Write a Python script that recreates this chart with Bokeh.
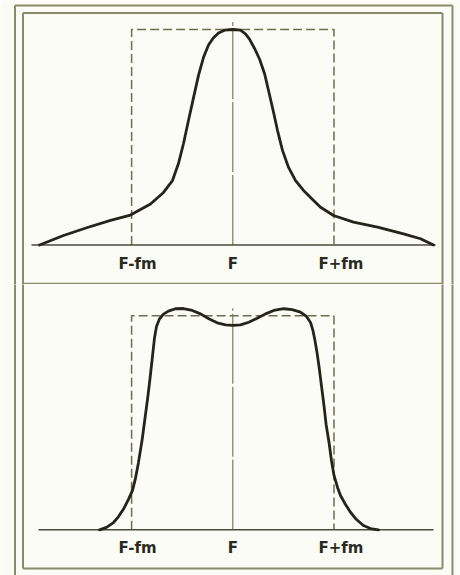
from bokeh.plotting import figure
from bokeh.layouts import column
from bokeh.models import Range1d
from bokeh.core.properties import value
from bokeh.embed import file_html
from bokeh.resources import INLINE

# ---------------- data (frequency in units of fm, F = 0; amplitude relative) -------------
tick_positions = [-1.0, 0.0, 1.0]
tick_labels = ["F-fm", "F", "F+fm"]

band_left = -1.0          # F - fm
band_right = 1.0          # F + fm
band_top = 1.0            # ideal (rectangular) response

# upper panel: single-peaked response
top_x = [-1.910, -1.673, -1.436, -1.208, -1.011, -0.813, -0.685, -0.596, -0.537, -0.487,
         -0.438, -0.388, -0.339, -0.290, -0.240, -0.191, -0.141, -0.082, 0.0,
         0.076, 0.125, 0.165, 0.215, 0.265, 0.314, 0.353, 0.403, 0.442, 0.491,
         0.551, 0.620, 0.699, 0.788, 0.867, 0.995, 1.193, 1.430, 1.687, 1.855, 1.983]
top_y = [0.0, 0.044, 0.081, 0.114, 0.139, 0.190, 0.244, 0.299, 0.378, 0.471,
         0.578, 0.684, 0.787, 0.870, 0.928, 0.962, 0.984, 0.997, 1.0,
         0.997, 0.980, 0.955, 0.912, 0.862, 0.795, 0.717, 0.615, 0.531, 0.439,
         0.360, 0.299, 0.253, 0.211, 0.175, 0.137, 0.106, 0.083, 0.052, 0.029, 0.0]

# lower panel: double-humped band-pass response
bot_x = [-1.317, -1.248, -1.179, -1.129, -1.080, -1.031, -0.991, -0.962, -0.932, -0.897,
         -0.868, -0.843, -0.818, -0.793, -0.773, -0.754, -0.725, -0.685, -0.636, -0.567,
         -0.488, -0.401, -0.319, -0.237, -0.154, -0.072, 0.0,
         0.076, 0.158, 0.241, 0.323, 0.405, 0.504, 0.587, 0.669, 0.728, 0.768,
         0.792, 0.812, 0.832, 0.852, 0.876, 0.901, 0.922, 0.951, 0.975, 1.000,
         1.035, 1.064, 1.114, 1.163, 1.222, 1.291, 1.361, 1.440]
bot_y = [0.0, 0.011, 0.034, 0.062, 0.097, 0.142, 0.184, 0.240, 0.315, 0.417,
         0.520, 0.609, 0.707, 0.814, 0.899, 0.950, 0.985, 1.008, 1.022, 1.033,
         1.034, 1.025, 1.009, 0.986, 0.967, 0.958, 0.955,
         0.958, 0.970, 0.989, 1.009, 1.025, 1.033, 1.029, 1.017, 0.997, 0.969,
         0.931, 0.885, 0.829, 0.763, 0.674, 0.581, 0.492, 0.408, 0.324, 0.254,
         0.198, 0.160, 0.118, 0.082, 0.048, 0.020, 0.006, 0.0]

# ---------------- styling / layout ----------------
BG = "#fcfcf7"
FRAME = "#8a8a6c"
DASH = "#6c6c52"
CENTER = "#7a7a5e"
CURVE = "#24241a"
BASE = "#4a4a3c"
TEXT = "#2a2a1e"

W = 460
F_PX, FM_PX = 232.3, 101.2          # page pixel of F and pixels per fm


def px2x(px):
    return (px - F_PX) / FM_PX


def make_panel(top_page, height, base_px, unit_px, cx, cy, base_ext, label_py, is_top):
    def py2y(py):
        return (base_px - py) / unit_px

    p = figure(width=W, height=height,
               x_range=Range1d(px2x(0), px2x(W)),
               y_range=Range1d(py2y(top_page + height), py2y(top_page)),
               output_backend="svg", toolbar_location=None,
               x_axis_location=None, y_axis_location=None,
               background_fill_color=BG, border_fill_color=BG,
               outline_line_color=None)
    p.min_border_left = p.min_border_right = 0
    p.min_border_top = p.min_border_bottom = 0
    p.xgrid.visible = False
    p.ygrid.visible = False

    bottom_page = top_page + height
    x0, y0, x1, y1 = [], [], [], []

    def seg(a, b, c, d):
        x0.append(px2x(a)); y0.append(py2y(b)); x1.append(px2x(c)); y1.append(py2y(d))

    if is_top:
        seg(14.5, 5, 14.5, bottom_page + 3)        # outer left
        seg(14.5, 5, 452, 5)                       # outer top
        seg(452, 5, 452, bottom_page + 3)          # outer right
        seg(22.5, 12.5, 22.5, bottom_page + 3)     # inner left
        seg(22.5, 12.5, 442, 12.5)                 # inner top
        seg(442, 12.5, 442, bottom_page + 3)       # inner right
        seg(22.5, 283.3, 442, 283.3)               # divider
    else:
        seg(14.5, top_page - 3, 14.5, bottom_page + 3)
        seg(452, top_page - 3, 452, bottom_page + 3)
        seg(22.5, top_page - 3, 22.5, 568)
        seg(442, top_page - 3, 442, 568)
        seg(22.5, 568, 442, 568)
    p.segment(x0=x0, y0=y0, x1=x1, y1=y1, line_color=FRAME, line_width=2)

    # ideal rectangular band (dashed)
    p.line([band_left, band_left, band_right, band_right], [0, band_top, band_top, 0],
           line_color=DASH, line_width=1.5, line_dash="9 4")
    # centre line at F
    p.line([tick_positions[1], tick_positions[1]], [0, 1.035],
           line_color=CENTER, line_width=1.2, line_dash="70 3")
    # base line
    p.line(base_ext, [0, 0], line_color=BASE, line_width=1.6)
    # response curve
    p.line(cx, cy, line_color=CURVE, line_width=2.8, line_join="round", line_cap="round")

    # tick labels
    p.text(x=tick_positions, y=[py2y(label_py)] * len(tick_positions), text=tick_labels,
           x_offset=[6, 0, 7],
           text_font=value("DejaVu Sans"), text_font_style="bold", text_font_size="15px",
           text_color=TEXT, text_align="center", text_baseline="middle")
    return p


top = make_panel(0, 284, 244.5, 215.5, top_x, top_y, [px2x(31), px2x(435)], 263, True)
bot = make_panel(284, 291, 529.3, 214.0, bot_x, bot_y, [px2x(38), px2x(433)], 547, False)

layout = column(top, bot, spacing=0)
open("out.html", "w").write(file_html(layout, INLINE))
